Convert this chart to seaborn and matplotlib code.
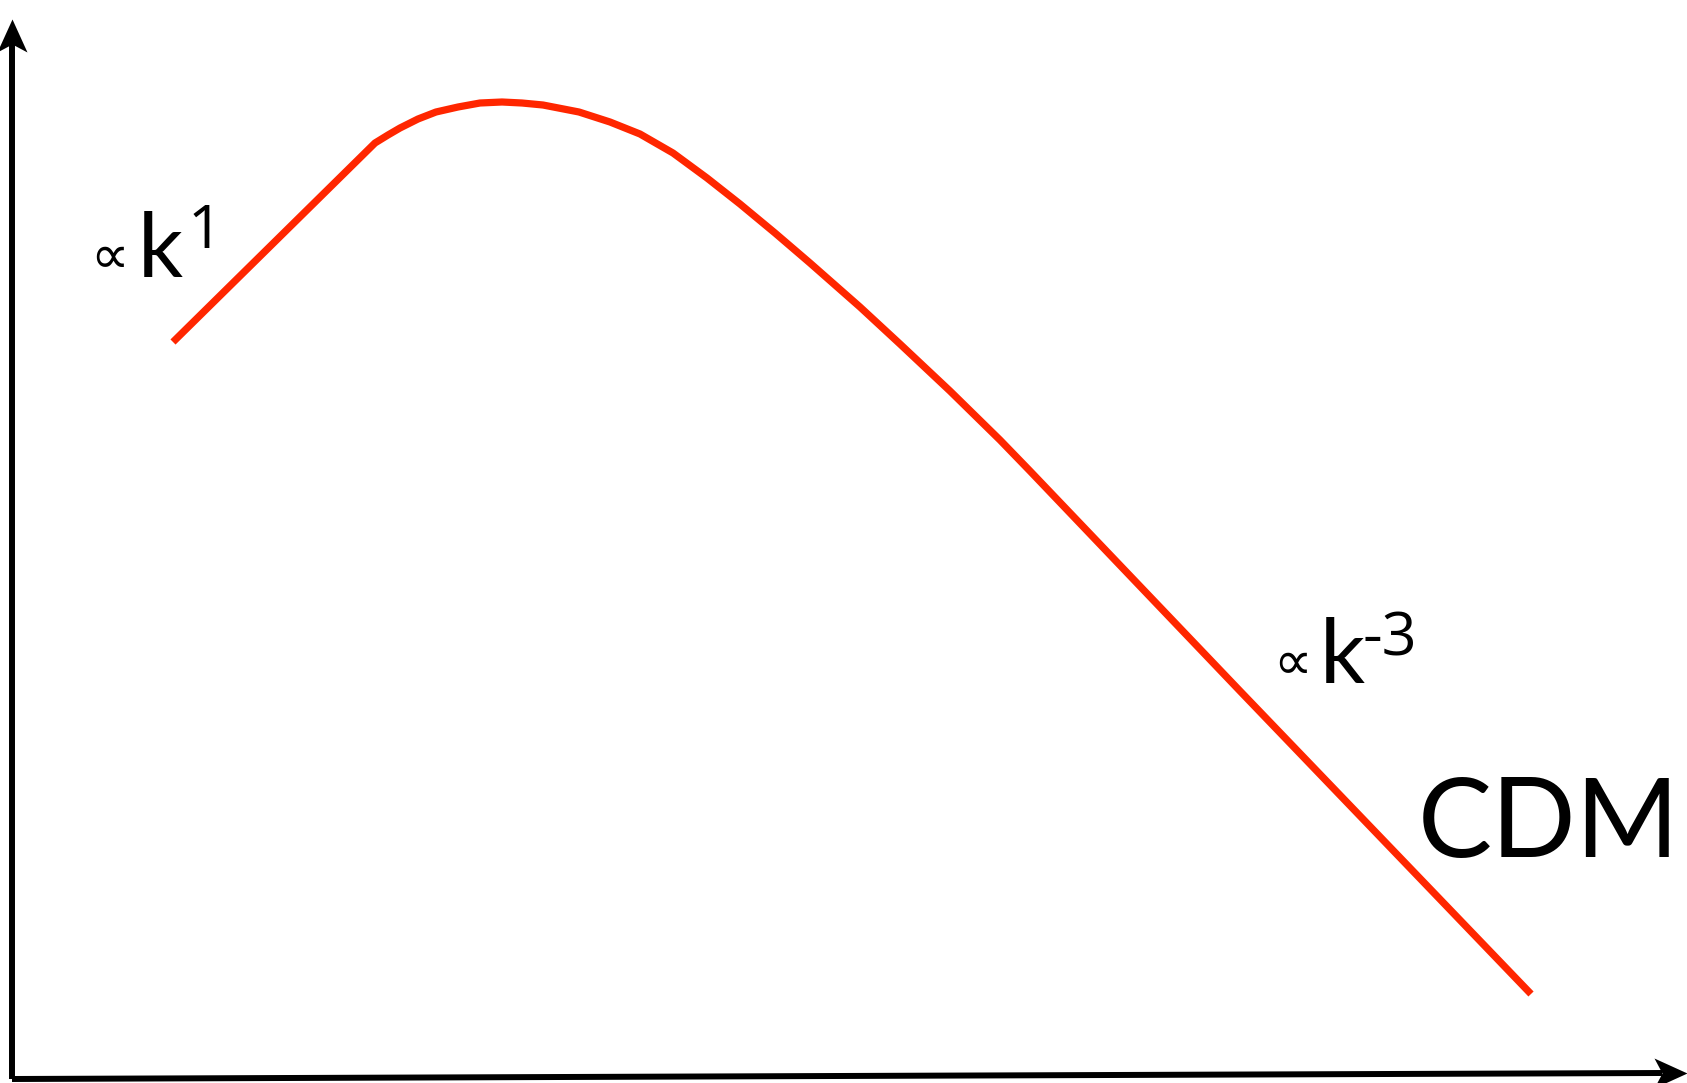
import numpy as np
import pandas as pd
import matplotlib
matplotlib.use("Agg")
import matplotlib.pyplot as plt
import seaborn as sns
from matplotlib.path import Path

# Schematic CDM matter power spectrum, arbitrary units (log k, log P)
log_k = [161, 363, 376, 388, 406, 424, 446, 468, 490, 510, 531, 567, 598,
         628, 661, 695, 728, 763, 798, 848, 888, 938, 988, 1018, 1228, 1519]
log_power = [737, 936, 944, 951, 960, 967, 972, 976, 977, 976, 974, 967, 957,
             945, 926, 901, 875, 846, 816, 772, 735, 688, 639, 608, 388, 85]

slope_low = "1"
slope_high = "-3"
model_name = "CDM"

sns.set_style("white")
plt.rcParams["font.family"] = ["Lato", "DejaVu Sans"]
plt.rcParams["text.color"] = "black"

DPI = 100
fig = plt.figure(figsize=(16.87, 10.83), dpi=DPI)
ax = fig.add_axes([0, 0, 1, 1])
ax.set_xlim(-12, 1675)
ax.set_ylim(-4, 1079)
ax.axis("off")

df = pd.DataFrame({"log_k": log_k, "log_P": log_power})
sns.lineplot(data=df, x="log_k", y="log_P", sort=False, color="#ff2600",
             linewidth=5.2, ax=ax, solid_capstyle="butt",
             solid_joinstyle="round")

# Axis arrows with notched heads
axis_lw = 4.3
ax.plot([0, 0], [0, 1035], color="black", lw=axis_lw, solid_capstyle="butt")
ax.plot([0, 1650], [0, 6], color="black", lw=axis_lw, solid_capstyle="butt")


def head_marker(angle_deg):
    verts = np.array([(0, 0), (-15, -33), (0, -25), (15, -33), (0, 0)], float)
    a = np.deg2rad(angle_deg)
    rot = np.array([[np.cos(a), -np.sin(a)], [np.sin(a), np.cos(a)]])
    verts = verts @ rot.T
    codes = [Path.MOVETO, Path.LINETO, Path.LINETO, Path.LINETO, Path.CLOSEPOLY]
    return Path(verts, codes)


ms = 2 * 33 * 72 / DPI
ax.plot([0], [1060], marker=head_marker(0), markersize=ms, color="black",
        markeredgewidth=0)
ax.plot([1675], [6], marker=head_marker(-90), markersize=ms, color="black",
        markeredgewidth=0)

# Slope labels
sup_font = ["Open Sans", "DejaVu Sans"]
ax.text(98, 821, "\u221d", fontsize=39, family="DejaVu Sans",
        ha="center", va="center", color="black")
ax.text(126, 802, "k", fontsize=64, ha="left", va="baseline", color="black")
ax.text(176, 831, slope_low, fontsize=44, family=sup_font,
        ha="left", va="baseline", color="black")

ax.text(1281, 415, "\u221d", fontsize=39, family="DejaVu Sans",
        ha="center", va="center", color="black")
ax.text(1308, 396, "k", fontsize=64, ha="left", va="baseline", color="black")
ax.text(1351, 424, slope_high, fontsize=44, family=sup_font,
        ha="left", va="baseline", color="black")

ax.text(1406, 222, model_name, fontsize=80, ha="left", va="baseline",
        color="black")

fig.savefig("out.png", dpi=DPI)
